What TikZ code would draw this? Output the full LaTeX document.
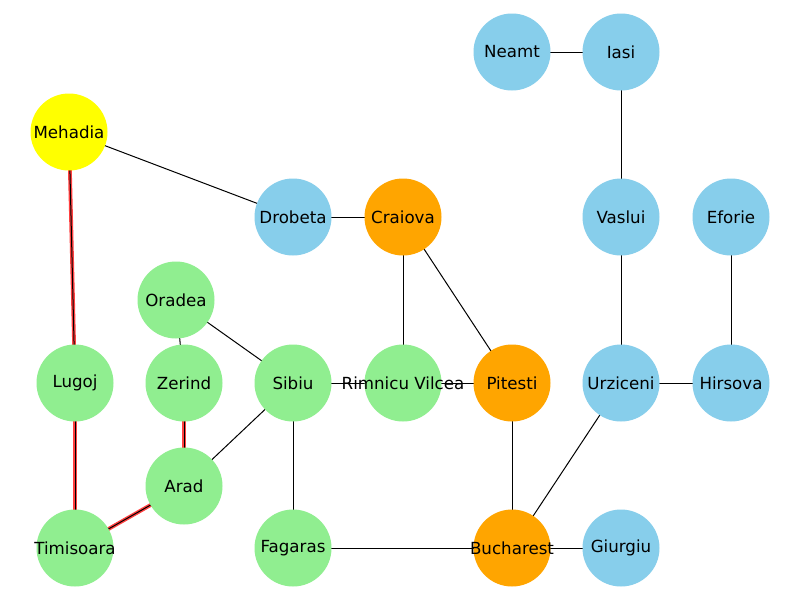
\documentclass[tikz,border=0pt]{standalone}
\usepackage{fontspec}
\setmainfont{DejaVu Sans}
\usetikzlibrary{backgrounds}
\definecolor{lgreen}{HTML}{90EE90}
\definecolor{skyb}{HTML}{87CEEB}
\definecolor{orng}{HTML}{FFA500}
\definecolor{yell}{HTML}{FFFF00}
\tikzset{
  city/.style={circle,minimum size=77pt,inner sep=0pt,draw=none,fill=#1},
  lbl/.style={font=\fontsize{16.67}{20}\selectfont},
  edge/.style={draw=black,line width=1pt},
  redge/.style={draw=red!75,line width=3.8pt},
}
\newcommand{\city}[4]{\node[city=#4,label={[lbl]center:#3}] (#1) at #2 {};}
\begin{document}
\begin{tikzpicture}[x=1pt,y=-1pt]
\useasboundingbox (0,0) rectangle (800,600);
\city{neamt}{(512,52)}{Neamt}{skyb}
\city{iasi}{(621,52)}{Iasi}{skyb}
\city{mehadia}{(69,132)}{Mehadia}{yell}
\city{drobeta}{(293,217)}{Drobeta}{skyb}
\city{craiova}{(403,217)}{Craiova}{orng}
\city{vaslui}{(621,217)}{Vaslui}{skyb}
\city{eforie}{(731,217)}{Eforie}{skyb}
\city{oradea}{(176,300)}{Oradea}{lgreen}
\city{lugoj}{(75,383)}{Lugoj}{lgreen}
\city{zerind}{(184,383)}{Zerind}{lgreen}
\city{sibiu}{(293,383)}{Sibiu}{lgreen}
\city{rimnicu}{(403,383)}{Rimnicu Vilcea}{lgreen}
\city{pitesti}{(512,383)}{Pitesti}{orng}
\city{urziceni}{(621,383)}{Urziceni}{skyb}
\city{hirsova}{(731,383)}{Hirsova}{skyb}
\city{arad}{(184,486)}{Arad}{lgreen}
\city{timisoara}{(75,548)}{Timisoara}{lgreen}
\city{fagaras}{(293,548)}{Fagaras}{lgreen}
\city{bucharest}{(512,548)}{Bucharest}{orng}
\city{giurgiu}{(621,548)}{Giurgiu}{skyb}
\begin{scope}[on background layer]
\fill[white] (0,0) rectangle (800,600);
\foreach \a/\b in {mehadia/lugoj,lugoj/timisoara,timisoara/arad,arad/zerind}{
  \draw[redge] (\a.center) -- (\b.center);
}
\foreach \a/\b in {neamt/iasi,iasi/vaslui,vaslui/urziceni,eforie/hirsova,urziceni/hirsova,urziceni/bucharest,bucharest/giurgiu,fagaras/bucharest,pitesti/bucharest,craiova/pitesti,craiova/rimnicu,drobeta/craiova,mehadia/drobeta,rimnicu/pitesti,sibiu/rimnicu,sibiu/fagaras,oradea/sibiu,oradea/zerind,arad/sibiu,mehadia/lugoj,lugoj/timisoara,timisoara/arad,arad/zerind}{
  \draw[edge] (\a.center) -- (\b.center);
}
\end{scope}
\end{tikzpicture}
\end{document}
